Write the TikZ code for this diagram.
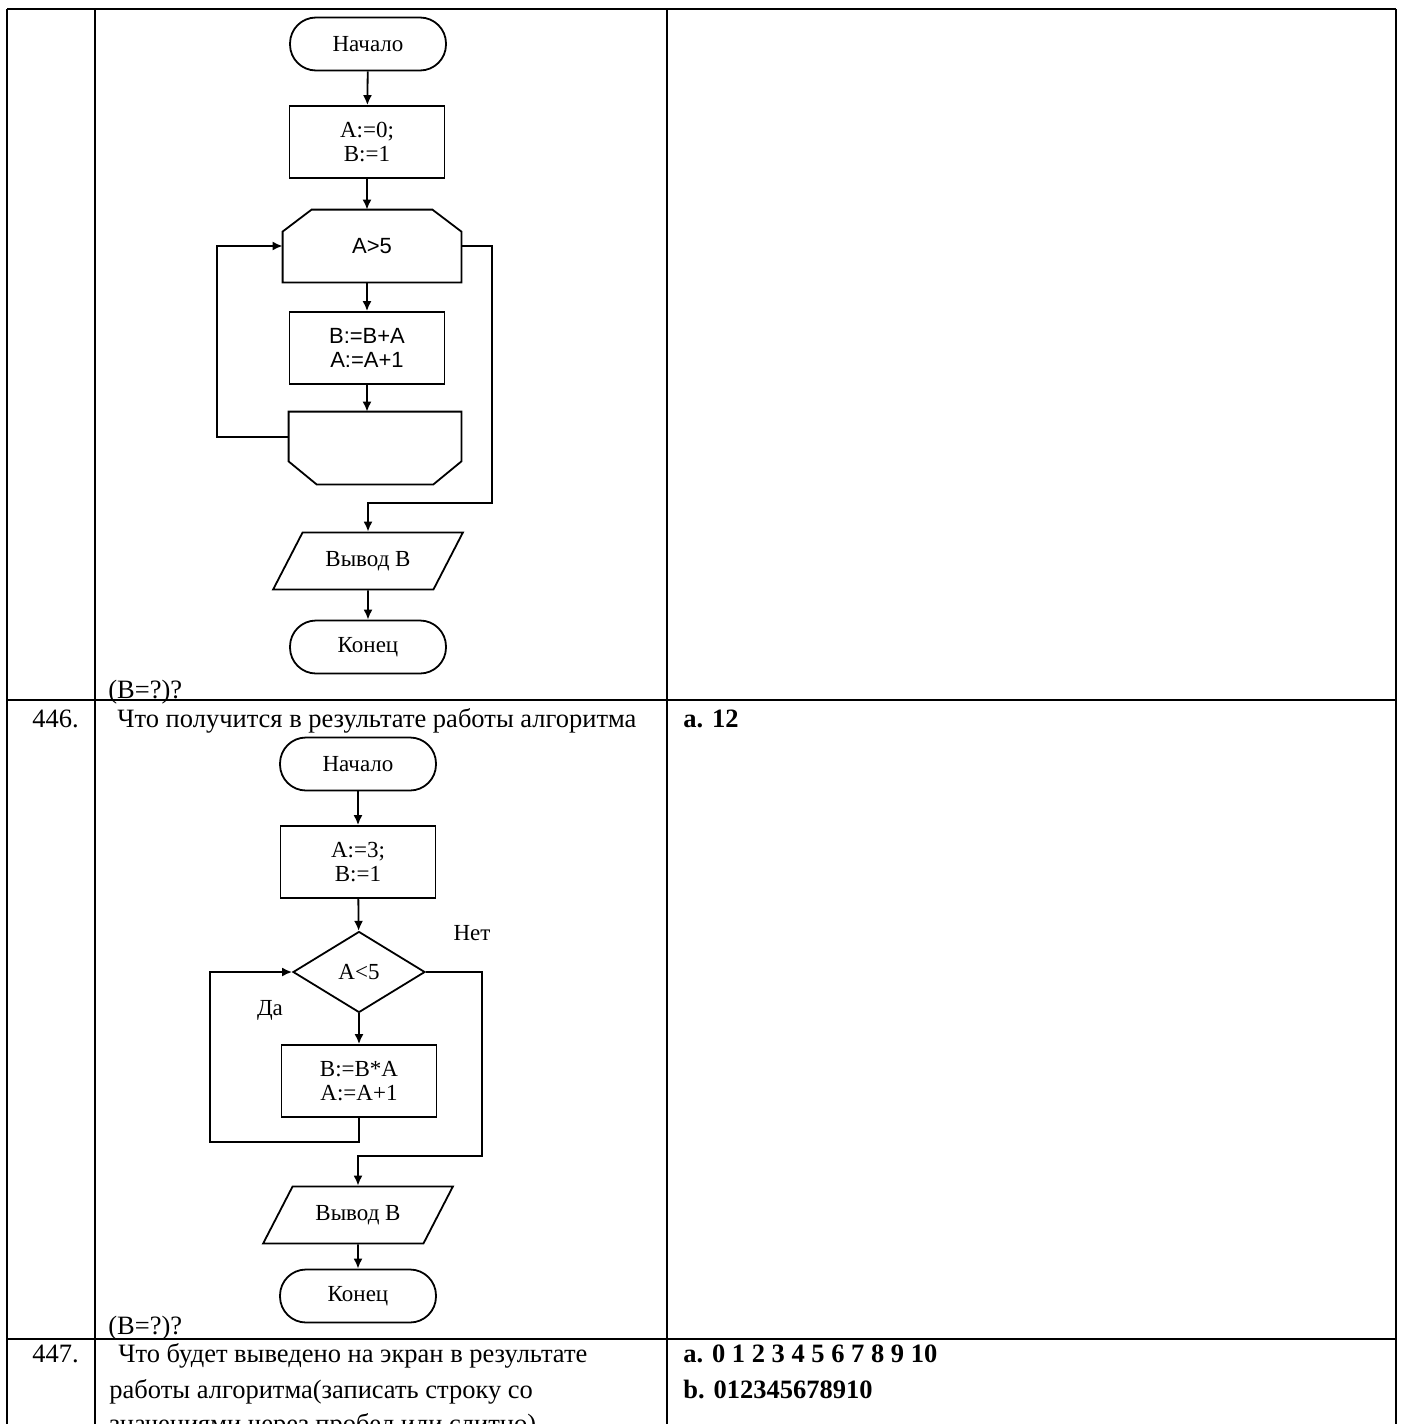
\documentclass[tikz,border=0pt]{standalone}
\usepackage{fontspec}
\setmainfont{Liberation Serif}
\newfontfamily\flowsansfamily{Liberation Sans}
\usetikzlibrary{arrows.meta,positioning,shapes.geometric}
\newcommand{\bodyfont}{\fontsize{13.25}{16}\selectfont}
\newcommand{\flowfont}{\fontsize{11.5}{12}\selectfont}
\newcommand{\flowsans}{\flowsansfamily\fontsize{11}{12}\selectfont}
\tikzset{
    %Define standard arrow tip
    >={Latex[length=5pt,width=4.5pt]},
    %Define style for flowchart blocks
    terminal/.style={
           rectangle,
           rounded corners=13pt,
           draw=black, line width=0.9pt,
           minimum width=78pt,
           minimum height=26.5pt,
           font=\flowfont,
           text centered},
    process/.style={
           rectangle,
           draw=black, line width=0.9pt,
           minimum width=77.5pt,
           minimum height=36pt,
           inner sep=1pt,
           font=\flowfont,
           align=center},
    loopbox/.style={
           rectangle,
           minimum width=89pt,
           minimum height=36pt,
           font=\flowsans,
           text centered},
    decision/.style={
           diamond,
           draw=black, line width=0.9pt,
           aspect=1.63,
           inner sep=0pt,
           minimum width=66pt,
           minimum height=40.5pt,
           font=\flowfont,
           text centered},
    io/.style={
           trapezium,
           trapezium stretches=true,
           trapezium left angle=56,
           trapezium right angle=124,
           draw=black, line width=0.9pt,
           minimum width=95pt,
           minimum height=28.5pt,
           font=\flowfont,
           text centered},
    flowlabel/.style={
           inner sep=0pt,
           font=\flowfont},
    txt/.style={
           anchor=base west,
           inner sep=0pt,
           font=\bodyfont},
    % Define line styles
    rule/.style={line width=1.3pt},
    flow/.style={line width=0.9pt}
}
\begin{document}
\begin{tikzpicture}[x=0.5pt,y=-0.5pt]
\useasboundingbox (0,0) rectangle (1404,1424);
% table
\draw[rule] (7,9) -- (196,9) (516,9) -- (1396,9);
\draw[line width=0.6pt] (196,9) -- (516,9);
\draw[rule] (7,9) -- (7,1424) (95,9) -- (95,1424)
    (667,9) -- (667,1424) (1396,9) -- (1396,1424);
\draw[rule] (7,700) -- (1396,700) (7,1339) -- (1396,1339);

% first flowchart
\node[terminal] (start1) at (368,44) {Начало};
\node[process] (init1) at (367,142) {A:=0;\\B:=1};
\node[loopbox] (cond1) at (372,246) {A>5};
\node[process, font=\flowsans] (body1) at (367,348) {B:=B+A\\A:=A+1};
\node[loopbox, minimum width=86pt] (close1) at (375,448) {};
\node[io] (out1) at (368,561) {Вывод B};
\node[terminal] (stop1) at (368,647) {Конец};
\node[txt] (ask1) at (108,698) {(B=?)?};
\draw[flow] ([yshift=-11pt]cond1.north west) -- ([xshift=14.5pt]cond1.north west)
    -- ([xshift=-14.5pt]cond1.north east) -- ([yshift=-11pt]cond1.north east)
    -- (cond1.south east) -- (cond1.south west) -- cycle;
\draw[flow] (close1.north west) -- (close1.north east)
    -- ([yshift=11.5pt]close1.south east) -- ([xshift=-14pt]close1.south east)
    -- ([xshift=14pt]close1.south west) -- ([yshift=11.5pt]close1.south west) -- cycle;
\coordinate (back1) at (217,437);
\coordinate (exit1) at (492,503);
\draw[flow,->] (start1) -- (init1);
\draw[flow,->] (init1.south) -- (init1.south |- cond1.north);
\draw[flow,->] (body1.north |- cond1.south) -- (body1.north);
\draw[flow,->] (body1.south) -- (body1.south |- close1.north);
\draw[flow,->] ([yshift=5.5pt]close1.west) -- (back1) |- (cond1.west);
\draw[flow,->] (cond1.east) -| (exit1) -| (out1.north);
\draw[flow,->] (out1) -- (stop1);

% second flowchart
\node[terminal] (start2) at (358,764) {Начало};
\node[process] (init2) at (358,862) {A:=3;\\B:=1};
\node[decision] (cond2) at (359,972) {A<5};
\node[process] (body2) at (359,1081) {B:=B*A\\A:=A+1};
\node[io] (out2) at (358,1215) {Вывод B};
\node[terminal] (stop2) at (358,1296) {Конец};
\node[flowlabel] (no2) at (472,933) {Нет};
\node[flowlabel] (yes2) at (270,1010) {Да};
\node[txt] (ask2) at (108,1334) {(B=?)?};
\coordinate (back2) at (210,1142);
\coordinate (exit2) at (482,1156);
\draw[flow,->] (start2) -- (init2);
\draw[flow,->] (init2) -- (cond2);
\draw[flow,->] (cond2) -- (body2);
\draw[flow,->] (body2.south) |- (back2) |- (cond2.west);
\draw[flow,->] (cond2.east) -| (exit2) -| (out2.north);
\draw[flow,->] (out2) -- (stop2);

% question texts
\node[txt] (num446) at (32,727) {446.};
\node[txt] (q446) at (117,727) {Что получится в результате работы алгоритма};
\node[txt, font=\bodyfont\bfseries] (ans446) at (683,727) {a. 12};
\node[txt] (num447) at (32,1362) {447.};
\node[txt] (q447a) at (118,1362) {Что будет выведено на экран в результате};
\node[txt] (q447b) at (109,1398) {работы алгоритма(записать строку со};
\node[txt] (q447c) at (109,1432) {значениями через пробел или слитно)};
\node[txt, font=\bodyfont\bfseries] (ans447a) at (683,1362) {a. 0 1 2 3 4 5 6 7 8 9 10};
\node[txt, font=\bodyfont\bfseries] (ans447b) at (683,1398) {b. 012345678910};
\end{tikzpicture}
\end{document}
